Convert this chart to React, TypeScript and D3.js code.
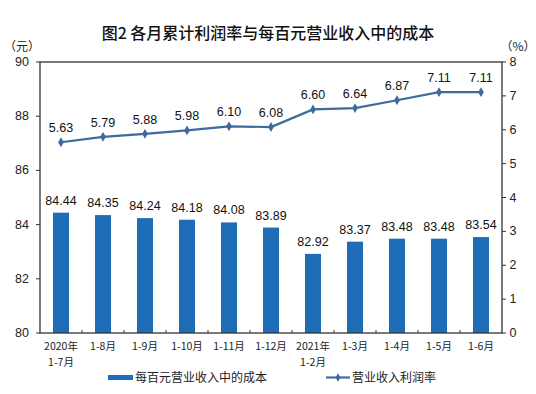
import React from "react";
import * as d3 from "d3";

const categories = ["2020年\n1-7月", "1-8月", "1-9月", "1-10月", "1-11月", "1-12月", "2021年\n1-2月", "1-3月", "1-4月", "1-5月", "1-6月"];
const costValues = [84.44, 84.35, 84.24, 84.18, 84.08, 83.89, 82.92, 83.37, 83.48, 83.48, 83.54];
const profitRate = [5.63, 5.79, 5.88, 5.98, 6.1, 6.08, 6.6, 6.64, 6.87, 7.11, 7.11];
const leftTicks = [80, 82, 84, 86, 88, 90];
const rightTicks = [0, 1, 2, 3, 4, 5, 6, 7, 8];

const W = 536, H = 394;
const m = { left: 40, right: 502, top: 62, bottom: 333 };
const barColor = "#1E6DB6";
const lineColor = "#3E6A9C";
const numFont = "'Liberation Sans', Arial, sans-serif";
const cjkFont = "'Noto Sans CJK SC', sans-serif";

export default function App() {
  const x = d3.scaleBand<number>().domain(d3.range(categories.length)).range([m.left, m.right]).paddingInner(0).paddingOuter(0);
  const yL = d3.scaleLinear().domain([80, 90]).range([m.bottom, m.top]);
  const yR = d3.scaleLinear().domain([0, 8]).range([m.bottom, m.top]);
  const bw = 16;
  const cx = (i: number) => (x(i) as number) + x.bandwidth() / 2;
  const line = d3.line<number>().x((_, i) => cx(i)).y((d) => yR(d));

  return (
    <svg width={W} height={H} style={{ position: "absolute", left: 0, top: 0, background: "#fff" }}>
      <rect x={0} y={0} width={W} height={H} fill="#fff" />
      <text x={268} y={39} textAnchor="middle" fontFamily={cjkFont} fontSize={16} fontWeight={500} fill="#111">图2  各月累计利润率与每百元营业收入中的成本</text>
      <text x={22} y={51} textAnchor="middle" fontFamily={cjkFont} fontSize={12} fill="#222">（元）</text>
      <text x={518} y={51} textAnchor="middle" fontFamily={cjkFont} fontSize={12} fill="#222">（%）</text>

      {/* bars */}
      {costValues.map((v, i) => (
        <rect key={"b" + i} x={cx(i) - bw / 2} y={yL(v)} width={bw} height={m.bottom - yL(v)} fill={barColor} />
      ))}
      {costValues.map((v, i) => (
        <text key={"bl" + i} x={cx(i)} y={yL(v) - 8} textAnchor="middle" fontFamily={numFont} fontSize={12.5} fill="#111">{v.toFixed(2)}</text>
      ))}

      {/* line */}
      <path d={line(profitRate) || ""} fill="none" stroke={lineColor} strokeWidth={2.2} />
      {profitRate.map((v, i) => (
        <path key={"m" + i} d={d3.symbol().type(d3.symbolDiamond).size(28)() || ""} transform={`translate(${cx(i)},${yR(v)})`} fill={lineColor} />
      ))}
      {profitRate.map((v, i) => (
        <text key={"ll" + i} x={cx(i)} y={yR(v) - 10} textAnchor="middle" fontFamily={numFont} fontSize={12.5} fill="#111">{v.toFixed(2)}</text>
      ))}

      {/* frame */}
      <rect x={m.left} y={m.top} width={m.right - m.left} height={m.bottom - m.top} fill="none" stroke="#333" strokeWidth={1.3} />

      {/* left axis */}
      {leftTicks.map((t) => (
        <g key={"lt" + t}>
          <line x1={m.left - 4} x2={m.left} y1={yL(t)} y2={yL(t)} stroke="#333" />
          <text x={22} y={yL(t) + 4} textAnchor="middle" fontFamily={numFont} fontSize={12.5} fill="#222">{t}</text>
        </g>
      ))}
      {/* right axis */}
      {rightTicks.map((t) => (
        <g key={"rt" + t}>
          <line x1={m.right} x2={m.right + 4} y1={yR(t)} y2={yR(t)} stroke="#333" />
          <text x={513} y={yR(t) + 4} textAnchor="middle" fontFamily={numFont} fontSize={12.5} fill="#222">{t}</text>
        </g>
      ))}
      {/* bottom ticks */}
      {d3.range(1, categories.length).map((i) => (
        <line key={"bt" + i} x1={x(i) as number} x2={x(i) as number} y1={m.bottom} y2={m.bottom - 3} stroke="#333" />
      ))}
      {categories.map((c, i) =>
        c.split("\n").map((s, j) => (
          <text key={"c" + i + j} x={cx(i)} y={350 + j * 16} textAnchor="middle" fontFamily={cjkFont} fontSize={10.5} fill="#222">{s}</text>
        ))
      )}

      {/* legend */}
      <rect x={108} y={375} width={25} height={5} fill={barColor} />
      <text x={135} y={382} fontFamily={cjkFont} fontSize={12} fill="#222">每百元营业收入中的成本</text>
      <line x1={326} x2={350} y1={377.5} y2={377.5} stroke={lineColor} strokeWidth={2.2} />
      <path d={d3.symbol().type(d3.symbolDiamond).size(20)() || ""} transform="translate(338,377.5)" fill={lineColor} />
      <text x={352} y={382} fontFamily={cjkFont} fontSize={12} fill="#222">营业收入利润率</text>
    </svg>
  );
}
